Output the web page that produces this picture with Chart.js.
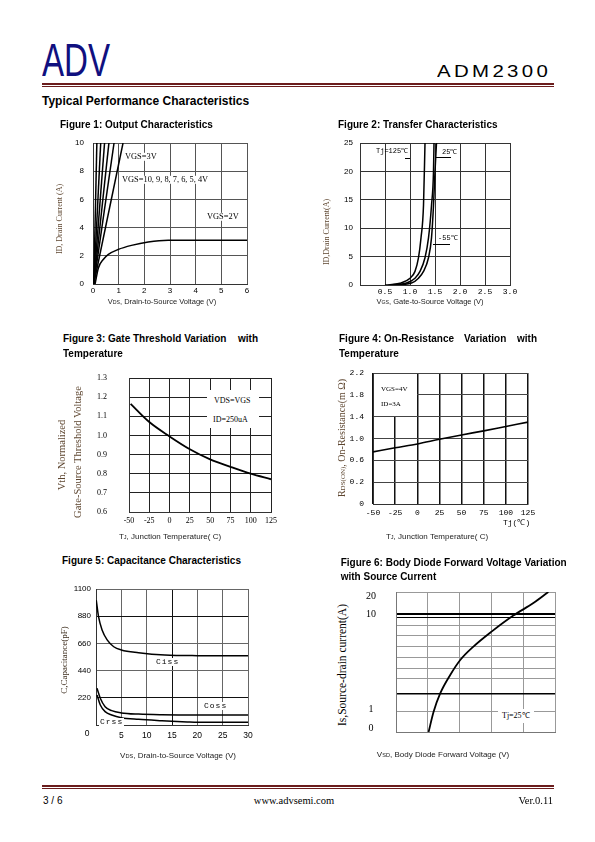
<!DOCTYPE html>
<html>
<head>
<meta charset="utf-8">
<title>ADM2300 - Typical Performance Characteristics</title>
<script src="https://cdn.jsdelivr.net/npm/chart.js@4.4.1/dist/chart.umd.min.js"></script>
<style>
  html, body { margin: 0; padding: 0; background: #fff; }
  body { position: relative; width: 595px; height: 842px; overflow: hidden;
         font-family: "Liberation Sans", Arial, sans-serif; color: #000; }
  canvas { position: absolute; }
  .t { position: absolute; white-space: nowrap; line-height: 1; z-index: 2; }
  .l { transform: translateY(-50%); }
  .c { transform: translate(-50%, -50%); }
  .r { transform: translate(-100%, -50%); }
  .v { transform: translate(-50%, -50%) rotate(-90deg); }
  .fig { font-weight: bold; font-size: 10px; }
  .serif { font-family: "Liberation Serif", "Times New Roman", serif; }
  .mono { font-family: "Liberation Mono", "DejaVu Sans Mono", monospace; }
  .box { background: #fff; padding: 0 1px; }
  .brown { color: #5e4630; }
  .rule { position: absolute; left: 42px; width: 512px; background: #6b1d1d; }
  .sm { font-size: 70%; }
  .lead { position: absolute; height: 1px; background: #000; z-index: 2; }
</style>
</head>
<body>

<!-- header -->
<div class="t" style="left:42px;top:37px;font-size:46px;color:#10107f;transform:scaleX(0.72);transform-origin:0 0;">ADV</div>
<div class="t" style="left:437px;top:62.5px;font-size:17px;letter-spacing:2.8px;transform:scaleX(1.2);transform-origin:0 0;">ADM2300</div>
<div class="rule" style="top:83px;height:2px;"></div>
<div class="rule" style="top:86px;height:1px;"></div>
<div class="t l" style="left:42px;top:100.5px;font-size:12px;font-weight:bold;">Typical Performance Characteristics</div>

<!-- figure titles -->
<div class="t l fig" style="left:60px;top:124.5px;">Figure 1: Output Characteristics</div>
<div class="t l fig" style="left:338px;top:124.5px;">Figure 2: Transfer Characteristics</div>
<div class="t l fig" style="left:63px;top:339.3px;">Figure 3: Gate Threshold Variation</div>
<div class="t l fig" style="left:238px;top:339.3px;">with</div>
<div class="t l fig" style="left:63px;top:354px;">Temperature</div>
<div class="t l fig" style="left:339px;top:339.3px;">Figure 4: On-Resistance</div>
<div class="t l fig" style="left:464px;top:339.3px;">Variation</div>
<div class="t l fig" style="left:517px;top:339.3px;">with</div>
<div class="t l fig" style="left:339px;top:354px;">Temperature</div>
<div class="t l fig" style="left:62px;top:560.7px;">Figure 5: Capacitance Characteristics</div>
<div class="t l fig" style="left:340.7px;top:563px;">Figure 6: Body Diode Forward Voltage Variation</div>
<div class="t l fig" style="left:340.7px;top:577.3px;">with Source Current</div>

<!-- figure 1 texts -->
<div class="t l serif box" style="left:124px;top:157px;font-size:8.4px;">VGS=3V</div>
<div class="t l serif box" style="left:121px;top:180px;font-size:8.4px;">VGS=10, 9, 8, 7, 6, 5, 4V</div>
<div class="t l serif box" style="left:206px;top:217px;font-size:8.4px;">VGS=2V</div>
<div class="t v serif brown" style="left:60px;top:219px;font-size:8px;">ID, Drain Current (A)</div>
<div class="t c" style="left:162px;top:302px;font-size:7.5px;color:#222;">V<span class="sm">DS</span>, Drain-to-Source Voltage (V)</div>

<!-- figure 2 texts -->
<div class="t l mono" style="left:376px;top:151px;font-size:7px;">Tj=125℃</div>
<div class="lead" style="left:405px;top:158px;width:5px;"></div>
<div class="t l mono" style="left:442px;top:152px;font-size:7px;">25℃</div>
<div class="lead" style="left:436px;top:157px;width:15px;"></div>
<div class="t l mono" style="left:438px;top:238px;font-size:7px;">-55℃</div>
<div class="lead" style="left:433px;top:244px;width:17px;"></div>
<div class="t v serif brown" style="left:327px;top:232px;font-size:8px;">ID,Drain Current(A)</div>
<div class="t c" style="left:430px;top:302px;font-size:7.5px;color:#222;">V<span class="sm">GS</span>, Gate-to-Source Voltage (V)</div>

<!-- figure 3 texts -->
<div class="t" style="left:207px;top:390px;width:52px;height:38px;background:#fff;"></div>
<div class="t l serif" style="left:214px;top:401px;font-size:8px;">VDS=VGS</div>
<div class="t l serif" style="left:213px;top:419.5px;font-size:8px;">ID=250uA</div>
<div class="t v serif brown" style="left:62px;top:455px;font-size:10.5px;">Vth, Normalized</div>
<div class="t v serif brown" style="left:78px;top:451.5px;font-size:10.5px;">Gate-Source Threshold Voltage</div>
<div class="t c" style="left:170px;top:537px;font-size:8px;color:#222;">T<span class="sm">J</span>, Junction Temperature( C)</div>

<!-- figure 4 texts -->
<div class="t" style="left:374px;top:374px;width:43px;height:42px;background:#fff;"></div>
<div class="t l serif" style="left:381px;top:389.3px;font-size:7px;">VGS=4V</div>
<div class="t l serif" style="left:381px;top:404.3px;font-size:7px;">ID=3A</div>
<div class="t l mono" style="left:503px;top:523px;font-size:8px;">Tj(℃)</div>
<div class="t v serif brown" style="left:342px;top:437.5px;font-size:10px;">R<span class="sm">DS(ON)</span>, On-Resistance(m Ω)</div>
<div class="t c" style="left:437px;top:537.3px;font-size:8px;color:#222;">T<span class="sm">J</span>, Junction Temperature( C)</div>

<!-- figure 5 texts -->
<div class="t l mono box" style="left:155px;top:662px;font-size:8px;letter-spacing:1px;">Ciss</div>
<div class="t l mono box" style="left:203px;top:706px;font-size:8px;letter-spacing:1px;">Coss</div>
<div class="t l mono box" style="left:99px;top:722px;font-size:8px;letter-spacing:1px;">Crss</div>
<div class="t c" style="left:87px;top:733px;font-size:8.5px;">0</div>
<div class="t v serif" style="left:64px;top:660px;font-size:9px;color:#3a2a1a;">C,Capacitance(pF)</div>
<div class="t c" style="left:178px;top:755.7px;font-size:8px;color:#222;">V<span class="sm">DS</span>, Drain-to-Source Voltage (V)</div>

<!-- figure 6 texts -->
<div class="t l serif box" style="left:498px;top:716px;font-size:8px;padding:3px 4px;">Tj=25℃</div>
<div class="t v serif" style="left:343px;top:665px;font-size:11.5px;">Is,Source-drain current(A)</div>
<div class="t c" style="left:443px;top:755px;font-size:8px;color:#222;">V<span class="sm">SD</span>, Body Diode Forward Voltage (V)</div>

<!-- footer -->
<div class="rule" style="top:785px;height:2px;"></div>
<div class="rule" style="top:788px;height:1px;"></div>
<div class="t l" style="left:43px;top:801px;font-size:10px;">3 / 6</div>
<div class="t c serif" style="left:294px;top:801px;font-size:10.5px;">www.advsemi.com</div>
<div class="t r serif" style="left:553px;top:801px;font-size:10.5px;">Ver.0.11</div>

<script>
// ---- Figure 1: output characteristics (VDS in V, ID in A) ----
const fig1Vds2V = [0.08, 0.21, 0.4, 0.6, 0.98, 1.5, 2.15, 2.93, 4, 5, 6];
const fig1Id2V  = [0, 1.14, 1.74, 2.1, 2.45, 2.74, 2.98, 3.1, 3.1, 3.1, 3.1];
const fig1Knee = 0.03;                                 // VDS where the steep curves start
const fig1SteepVds = [0.15, 0.3, 0.45, 0.62, 0.82, 1.17]; // VDS at ID=10A, VGS=10..4V then 3V

// ---- Figure 2: transfer characteristics (VGS in V, ID in A) ----
const fig2XTicks = ['', '0.5', '1.0', '1.5', '2.0', '2.5', '3.0'];
const fig2Vgs125 = [0.5, 0.8, 1.0, 1.1, 1.17, 1.22, 1.27, 1.3];
const fig2Id125  = [0, 0.3, 1.2, 2.4, 4.8, 8.3, 14, 25];
const fig2Vgs25  = [0.6, 0.93, 1.1, 1.2, 1.3, 1.37, 1.43, 1.47, 1.48];
const fig2Id25   = [0, 0.35, 1.2, 2.4, 4.8, 8.3, 14, 20, 25];
const fig2VgsM55 = [0.7, 1.03, 1.17, 1.27, 1.37, 1.43, 1.47, 1.5, 1.53];
const fig2IdM55  = [0, 0.35, 1.2, 2.4, 4.8, 8.3, 14, 20, 25];

// ---- Figure 3: normalized Vth vs Tj ----
const fig3TempC = [-48, -25, 0, 25, 50, 75, 100, 125];
const fig3Vth   = [1.165, 1.07, 0.995, 0.928, 0.875, 0.836, 0.80, 0.771];

// ---- Figure 4: RDS(on) vs Tj ----
const fig4YTicks = ['0', '0.2', '0.6', '1.0', '1.4', '1.8', '2.2'];
const fig4TempC = [-50, -25, 0, 25, 50, 75, 100, 125];
const fig4Rds   = [0.755, 0.83, 0.90, 0.985, 1.065, 1.14, 1.22, 1.30];

// ---- Figure 5: capacitance (VDS in V, C in pF) ----
const fig5CissV = [0.05, 0.5, 1.2, 2.2, 3.5, 5, 8.4, 13.6, 20, 30];
const fig5Ciss  = [1010, 876, 768, 688, 633, 607, 585, 566, 561, 560];
const fig5CossV = [0.2, 0.85, 1.8, 3.1, 5, 8.4, 13, 20, 30];
const fig5Coss  = [297, 216, 148, 116, 98, 88, 83, 81, 81];
const fig5CrssV = [0.2, 0.85, 1.8, 3.1, 5, 8.4, 13, 18, 20, 30];
const fig5Crss  = [243, 162, 108, 81, 59, 46, 35, 25, 22, 22];

// ---- Figure 6: body diode (VSD in V, Is in A on the sheet's uneven axis) ----
const fig6Stops  = [[-0.22, 0], [0, 0.029], [1, 0.163], [10, 0.837], [20, 0.968], [22.4, 1]];
const fig6Labels = [0, 1, 10, 20];
const fig6Grid   = [-0.22, 0.85, 2.5, 3.9, 4.9, 5.9, 7.0, 8.0, 9.0, 9.75, 10, 10.9, 22.4];
const fig6Heavy  = [2.5, 9.75, 10, 10.9];
const fig6Vsd = [0.405, 0.436, 0.478, 0.541, 0.604, 0.687, 0.803, 0.938, 1.064, 1.158];
const fig6Is  = [-0.22, 0.85, 2.5, 4.26, 5.69, 6.97, 8.42, 9.93, 16.4, 22.4];

const SANS = '"Liberation Sans", Arial, sans-serif';
const SERIF = '"Liberation Serif", "Times New Roman", serif';
const MONO = '"Liberation Mono", "DejaVu Sans Mono", monospace';

Chart.defaults.font.family = SANS;
Chart.defaults.font.size = 8;
Chart.defaults.color = '#000';

// piecewise linear scale for the uneven Is axis of figure 6
class StopScale extends Chart.LinearScale {
  getPixelForValue(v) {
    const s = fig6Stops;
    let i = 1;
    while (i < s.length - 1 && v > s[i][0]) i++;
    const a = s[i - 1], b = s[i];
    return this.getPixelForDecimal(a[1] + (v - a[0]) / (b[0] - a[0]) * (b[1] - a[1]));
  }
}
StopScale.id = 'stops';
StopScale.defaults = {};
Chart.register(StopScale);

const pts = (xs, ys) => xs.map((x, i) => ({ x, y: ys[i] }));

function axis(min, max, step, o = {}) {
  return {
    type: o.type || 'linear', min, max,
    afterBuildTicks: o.ticksAt ? s => { s.ticks = o.ticksAt.map(v => ({ value: v })); } : undefined,
    ticks: { stepSize: step, padding: o.pad ?? 3, autoSkip: false, maxRotation: 0, minRotation: 0,
             display: o.labels !== false, font: o.font, callback: o.fmt, crossAlign: o.cross || 'near' },
    grid: { color: o.grid || '#555', lineWidth: o.gw || 1, drawTicks: false },
    border: { color: o.border || '#333', width: 1 }
  };
}

// area = plot box on the page [left, top, right, bottom]
function plot(area, yw, xh, xAxis, yAxis, datasets) {
  // the y axis asks for label half-height + tick padding above and below the plot
  const ySize = (yAxis.ticks.font && yAxis.ticks.font.size) || 8;
  const padT = Math.ceil(yAxis.ticks.padding + ySize * 0.6 + 3);
  const padB = Math.max(0, padT - xh) + 2;
  const padR = 14;
  const cv = document.createElement('canvas');
  cv.width = area[2] - area[0] + yw + padR;
  cv.height = area[3] - area[1] + padT + xh + padB;
  cv.style.left = (area[0] - yw) + 'px';
  cv.style.top = (area[1] - padT) + 'px';
  document.body.appendChild(cv);
  xAxis.afterFit = s => { s.height = xh; };
  yAxis.afterFit = s => { s.width = yw; };
  return new Chart(cv, {
    type: 'scatter',
    data: {
      datasets: datasets.map(d => Object.assign({
        showLine: true, borderColor: '#000', backgroundColor: '#000', borderWidth: 1.5,
        pointRadius: 0, cubicInterpolationMode: 'monotone'
      }, d))
    },
    options: {
      responsive: false, animation: false, events: [],
      layout: { padding: { top: padT, right: padR, left: 0, bottom: padB } },
      plugins: { legend: { display: false }, tooltip: { enabled: false } },
      scales: { x: xAxis, y: yAxis }
    }
  });
}

// Figure 1
plot([93, 143, 247, 284], 30, 22,
  axis(0, 6, 1, { pad: 2 }),
  axis(0, 10, 2, { pad: 9 }),
  [{ data: pts(fig1Vds2V, fig1Id2V) }].concat(
    fig1SteepVds.map(v => ({ data: [{ x: fig1Knee, y: 0 }, { x: v, y: 10 }], cubicInterpolationMode: 'default', tension: 0 }))));

// Figure 2
plot([360, 143, 510, 285], 30, 22,
  axis(0, 3, 0.5, { pad: 2, font: { family: MONO, size: 8 }, fmt: (v, i) => fig2XTicks[i], grid: '#333' }),
  axis(0, 25, 5, { pad: 7, grid: '#333' }),
  [{ data: pts(fig2Vgs125, fig2Id125) },
   { data: pts(fig2Vgs25, fig2Id25) },
   { data: pts(fig2VgsM55, fig2IdM55) }]);

// Figure 3
plot([129, 378, 271, 512], 40, 20,
  axis(-50, 125, 25, { pad: 4, font: { family: SERIF, size: 8 }, grid: '#222' }),
  axis(0.6, 1.3, 0.1, { pad: 22, font: { family: SERIF, size: 8 }, fmt: v => v.toFixed(1), grid: '#222' }),
  [{ data: pts(fig3TempC, fig3Vth), borderWidth: 1.8 }]);

// Figure 4
plot([373, 373, 528, 504], 30, 20,
  axis(-50, 125, 25, { pad: 4, font: { family: MONO, size: 8 }, grid: '#111', gw: 1.5 }),
  axis(-0.2, 2.2, 0.4, { pad: 9, font: { family: MONO, size: 8 }, fmt: (v, i) => fig4YTicks[i], grid: '#444' }),
  [{ data: pts(fig4TempC, fig4Rds), borderWidth: 1.6 }]);

// Figure 5
plot([96, 589, 248, 725], 30, 20,
  axis(0, 30, 5, { pad: 6, font: { size: 8.5 }, fmt: v => v === 0 ? '' : v,
                   grid: c => c.tick && c.tick.value === 15 ? '#111' : '#666' }),
  axis(0, 1100, 220, { pad: 5, fmt: v => v === 0 ? '' : v,
                   grid: c => c.tick && (c.tick.value === 220 || c.tick.value === 880) ? '#111' : '#666' }),
  [{ data: pts(fig5CissV, fig5Ciss) },
   { data: pts(fig5CossV, fig5Coss) },
   { data: pts(fig5CrssV, fig5Crss) }]);

// Figure 6
const fig6Ticks = Array.from(new Set(fig6Grid.concat(fig6Labels))).sort((a, b) => a - b);
plot([396, 592, 555, 732], 36, 4,
  axis(0.2, 1.2, 0.2, { labels: false, grid: '#999', border: '#777' }),
  axis(-0.22, 22.4, null, {
    type: 'stops', ticksAt: fig6Ticks, pad: 20, cross: 'center', border: '#777',
    font: { family: SERIF, size: 10 },
    fmt: v => fig6Labels.includes(v) ? String(v) : '',
    grid: c => {
      const v = c.tick ? c.tick.value : null;
      if (!fig6Grid.includes(v)) return 'rgba(0,0,0,0)';
      return fig6Heavy.includes(v) ? '#000' : '#999';
    },
    gw: c => c.tick && c.tick.value === 2.5 ? 1.5 : 1
  }),
  [{ data: pts(fig6Vsd, fig6Is), borderWidth: 1.8 }]);
</script>
</body>
</html>
